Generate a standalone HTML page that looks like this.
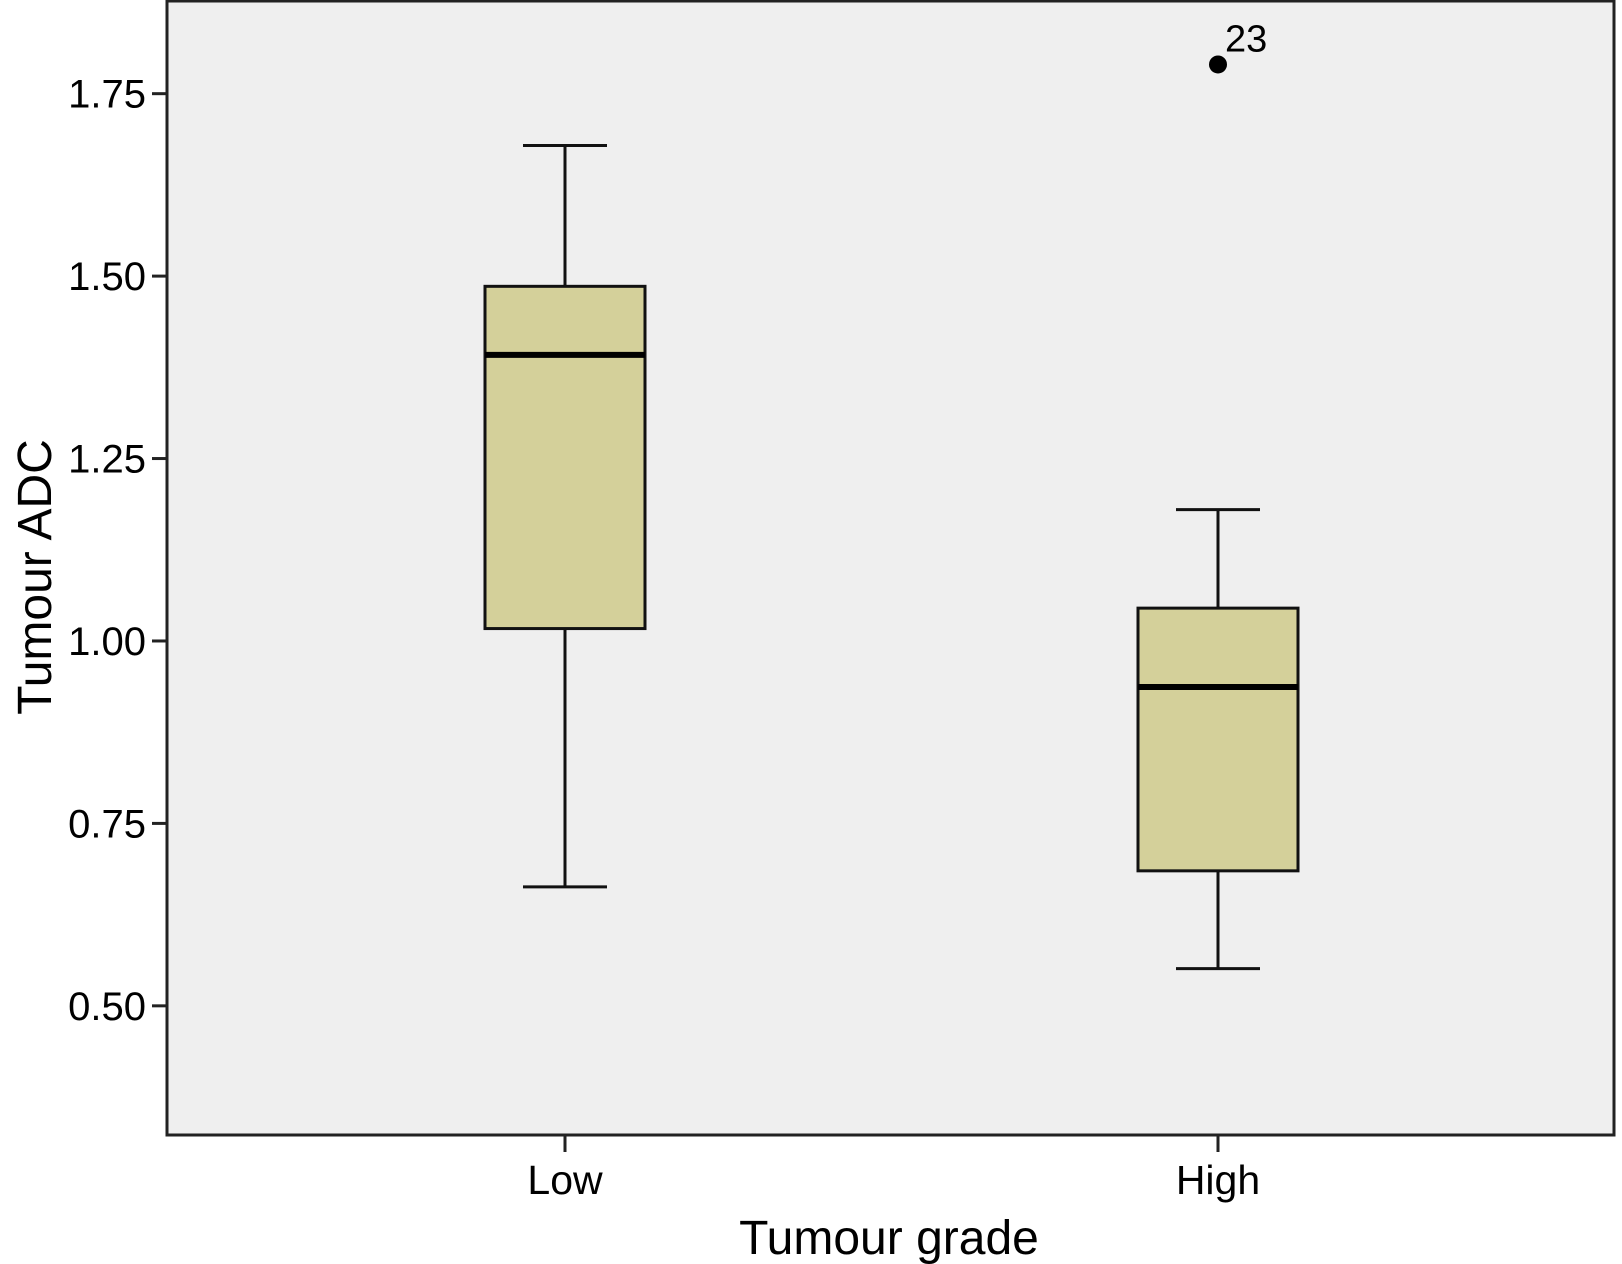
<!DOCTYPE html>
<html><head><meta charset="utf-8"><style>
html,body{margin:0;padding:0;background:#fff;}
svg{display:block;font-family:"Liberation Sans",Arial,sans-serif;}
</style></head><body>
<svg id="chart" width="1622" height="1264" viewBox="0 0 1622 1264">
<rect x="167" y="1" width="1447" height="1134" fill="#efefef" stroke="#222" stroke-width="3"/>
<g id="yaxis"></g>
<g id="xaxis"></g>
<g id="boxes"></g>
<text transform="translate(51,577) rotate(-90)" text-anchor="middle" font-size="48" fill="#000">Tumour ADC</text>
<text x="889" y="1254" text-anchor="middle" font-size="48" fill="#000">Tumour grade</text>
</svg>
<script>
const categories = ["Low", "High"];
const whiskerLow = [0.663, 0.551];
const q1 = [1.017, 0.685];
const medians = [1.392, 0.937];
const q3 = [1.486, 1.045];
const whiskerHigh = [1.679, 1.180];
const outlierValues = [[], [1.790]];
const outlierLabels = [[], ["23"]];
const yTicks = [0.50, 0.75, 1.00, 1.25, 1.50, 1.75];
const yTickLabels = ["0.50", "0.75", "1.00", "1.25", "1.50", "1.75"];

const NS = "http://www.w3.org/2000/svg";
const plotL = 167, plotR = 1614, plotT = 1, plotB = 1135;
const yMin = 0.323, yMax = 1.877;
function yScale(v){ return plotB - (v - yMin) / (yMax - yMin) * (plotB - plotT); }
const xCenters = [565, 1218];
function xScale(i){ return xCenters[i]; }
function mk(tag, attrs, parent){ const e = document.createElementNS(NS, tag); for (const k in attrs) e.setAttribute(k, attrs[k]); parent.appendChild(e); return e; }

const ya = document.getElementById("yaxis");
yTicks.forEach((t, i) => {
  const y = yScale(t);
  const ln = mk("line", {x1: 152, x2: plotL, y1: y, y2: y, stroke: "#222", "stroke-width": 3}, ya);
  
  
  const tx = mk("text", {x: 146, y: y + 14, "text-anchor": "end", "font-size": 40, fill: "#000"}, ya);
  tx.textContent = yTickLabels[i];
  
  
});
const xa = document.getElementById("xaxis");
categories.forEach((c, i) => {
  const x = xScale(i);
  const ln = mk("line", {x1: x, x2: x, y1: plotB, y2: 1152, stroke: "#222", "stroke-width": 3}, xa);
  
  
  const tx = mk("text", {x: x, y: 1194, "text-anchor": "middle", "font-size": 41, fill: "#000"}, xa);
  tx.textContent = c;
  
  
});
const bx = document.getElementById("boxes");
const halfW = 80, capW = 42;
categories.forEach((c, i) => {
  const x = xScale(i);
  const g = mk("g", {}, bx);
  
  
  const wl = mk("line", {x1: x, x2: x, y1: yScale(whiskerHigh[i]), y2: yScale(q3[i]), stroke: "#111", "stroke-width": 3}, g);
  
  
  const wl2 = mk("line", {x1: x, x2: x, y1: yScale(q1[i]), y2: yScale(whiskerLow[i]), stroke: "#111", "stroke-width": 3}, g);
  
  
  const c1 = mk("line", {x1: x - capW, x2: x + capW, y1: yScale(whiskerHigh[i]), y2: yScale(whiskerHigh[i]), stroke: "#111", "stroke-width": 3}, g);
  
  
  const c2 = mk("line", {x1: x - capW, x2: x + capW, y1: yScale(whiskerLow[i]), y2: yScale(whiskerLow[i]), stroke: "#111", "stroke-width": 3}, g);
  
  
  const r = mk("rect", {x: x - halfW, y: yScale(q3[i]), width: 2 * halfW, height: yScale(q1[i]) - yScale(q3[i]), fill: "#d4d09a", stroke: "#111", "stroke-width": 3}, g);
  
  
  const m = mk("line", {x1: x - halfW, x2: x + halfW, y1: yScale(medians[i]), y2: yScale(medians[i]), stroke: "#000", "stroke-width": 6}, g);
  
  
  outlierValues[i].forEach((v, j) => {
    const p = mk("circle", {cx: x, cy: yScale(v), r: 9, fill: "#000"}, g);
    
    
    const t = mk("text", {x: x + 7, y: yScale(v) - 13, "font-size": 38, fill: "#000"}, g);
    t.textContent = outlierLabels[i][j];
    
    
  });
});
</script>
</body></html>
